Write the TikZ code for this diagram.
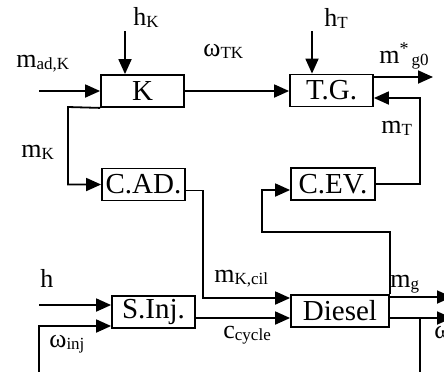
\documentclass[tikz,border=0pt]{standalone}
\usepackage{fontspec}
\setmainfont{Liberation Serif}
\usetikzlibrary{arrows.meta,calc}
\newcommand\lsub[1]{\raisebox{-1.3pt}{\fontsize{8.5}{9}\selectfont #1}}
\begin{document}
\begin{tikzpicture}[x=0.5pt,y=-0.5pt,
  blk/.style={draw,line width=0.9pt,inner sep=0pt,minimum height=16pt,font=\fontsize{14.5}{15}\selectfont},
  lbl/.style={inner sep=0pt,anchor=base west,font=\fontsize{13}{14}\selectfont},
  conn/.style={line width=0.9pt},
  arr/.style={conn,-{Triangle[length=7.5pt,width=6.5pt]}}]
\useasboundingbox (0,0) rectangle (444,371);
% blocks
\node[blk,minimum width=41.5pt] (K) at (142.5,91) {K};
\node[blk,minimum width=41.5pt] (TG) at (331.5,90.5) {T.G.};
\node[blk,minimum width=41.5pt] (CAD) at (143.5,184.5) {C.AD.};
\node[blk,minimum width=42pt] (CEV) at (333,184) {C.EV.};
\node[blk,minimum width=41.5pt] (SI) at (153.5,312) {S.Inj.};
\node[blk,minimum width=49pt] (D) at (340,311) {Diesel};
% free ends / bends
\coordinate (inK) at (39,91);
\coordinate (hK) at (125,31);
\coordinate (hT) at (312,31);
\coordinate (gout) at (433,77);
\coordinate (mT) at (420,98);
\coordinate (mKc) at (68,107);
\coordinate (cad) at (203,298);
\coordinate (ev) at (262,232);
\coordinate (mgo) at (452,297);
\coordinate (wo) at (452,318);
\coordinate (wd) at (420,318);
\coordinate (wdb) at (420,380);
\coordinate (hin) at (39,305);
\coordinate (winj) at (39,380);
\coordinate (cc) at (0,318);
% connectors
\draw[arr] (inK) -- (inK -| K.west);
\draw[arr] (hK) -- (hK |- K.north);
\draw[arr] (K.east) -- (K.east -| TG.west);
\draw[arr] (hT) -- (hT |- TG.north);
\draw[arr] (gout -| TG.east) -- (gout);
\draw[arr] (CEV.east) -| (mT) -- (mT -| TG.east);
\draw[arr] (K.south west) -- (mKc) |- (CAD.west);
\draw[arr] ($(CAD.east)+(0,6)$) -| (cad) -- (cad -| D.west);
\draw[arr] (D.north east) |- (ev) |- ($(CEV.west)+(0,6)$);
\draw[arr] (mgo -| D.east) -- (mgo);
\draw[arr] (wo -| D.east) -- (wo);
\draw[conn] (wd) -- (wdb);
\draw[arr] (hin) -- (hin -| SI.west);
\draw[arr] (winj) |- ($(SI.west)+(0,14)$);
\draw[arr] (cc -| SI.east) -- (cc -| D.west);
% labels
\node[lbl] (lmad) at (16,67) {m\lsub{ad,K}};
\node[lbl] (lhK) at (133,25) {h\lsub{K}};
\node[lbl] (lwTK) at (203,56) {ω\lsub{TK}};
\node[lbl] (lhT) at (324,26) {h\lsub{T}};
\node[lbl] (lg0) at (379,63) {m\raisebox{4.5pt}{\fontsize{9}{9}\selectfont *}\hspace{1.5pt}\lsub{g0}};
\node[lbl] (lmT) at (381,133) {m\lsub{T}};
\node[lbl] (lmK) at (21,157) {m\lsub{K}};
\node[lbl] (lmKc) at (214,282) {m\lsub{K,cil}};
\node[lbl] (lmg) at (390,287) {m\lsub{g}};
\node[lbl] (lh) at (40,287) {h};
\node[lbl] (lwinj) at (49,347) {ω\lsub{inj}};
\node[lbl] (lcc) at (223,338) {c\lsub{cycle}};
\node[lbl] (lw) at (434,338) {ω};
\end{tikzpicture}
\end{document}
